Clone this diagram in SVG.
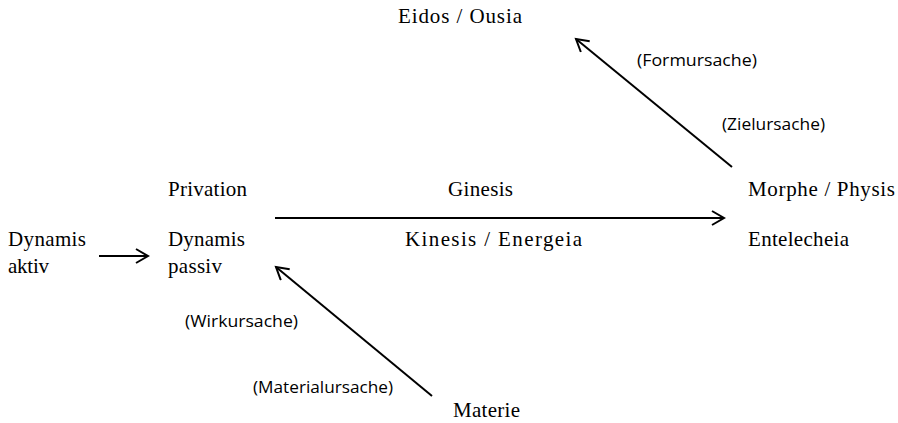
<svg xmlns="http://www.w3.org/2000/svg" width="898" height="423" viewBox="0 0 898 423">
<defs>
<style>
.s{font-family:"Liberation Serif","Times New Roman",serif;font-size:21px;fill:#000}
.l{font-family:"Open Sans","Noto Sans",sans-serif;font-size:16px;fill:#000}
.c{stroke:#000;stroke-width:2;fill:none}
</style>
<marker id="ah" markerWidth="16" markerHeight="16" refX="13" refY="8" orient="auto" markerUnits="userSpaceOnUse">
<path d="M1,1 L13,8 L1,15" fill="none" stroke="#000" stroke-width="2"/>
</marker>
</defs>
<g id="connectors">
<line class="c" x1="99" y1="256" x2="148" y2="256" marker-end="url(#ah)"/>
<line class="c" x1="275" y1="218" x2="724" y2="218" marker-end="url(#ah)"/>
<line class="c" x1="732" y1="167" x2="576" y2="39" marker-end="url(#ah)"/>
<line class="c" x1="432" y1="396" x2="276" y2="267" marker-end="url(#ah)"/>
<text class="l" x="637" y="66" textLength="120" lengthAdjust="spacingAndGlyphs">(Formursache)</text>
<text class="l" x="722" y="130" textLength="103" lengthAdjust="spacingAndGlyphs">(Zielursache)</text>
<text class="l" x="185" y="327" textLength="113" lengthAdjust="spacingAndGlyphs">(Wirkursache)</text>
<text class="l" x="253" y="393" textLength="140" lengthAdjust="spacingAndGlyphs">(Materialursache)</text>
</g>
<g id="eidos"><text class="s" x="398" y="23" textLength="124">Eidos / Ousia</text></g>
<g id="dynamis-aktiv"><text class="s" x="8" y="246" textLength="78">Dynamis</text><text class="s" x="8" y="273" textLength="41">aktiv</text></g>
<g id="dynamis-passiv"><text class="s" x="168" y="196" textLength="79">Privation</text><text class="s" x="168" y="246" textLength="77">Dynamis</text><text class="s" x="168" y="273" textLength="54">passiv</text></g>
<g id="process"><text class="s" x="448" y="196" textLength="65">Ginesis</text><text class="s" x="405" y="246" textLength="177">Kinesis / Energeia</text></g>
<g id="morphe"><text class="s" x="748" y="196" textLength="147">Morphe / Physis</text><text class="s" x="748" y="246" textLength="101">Entelecheia</text></g>
<g id="materie"><text class="s" x="453" y="417" textLength="67">Materie</text></g>
</svg>
